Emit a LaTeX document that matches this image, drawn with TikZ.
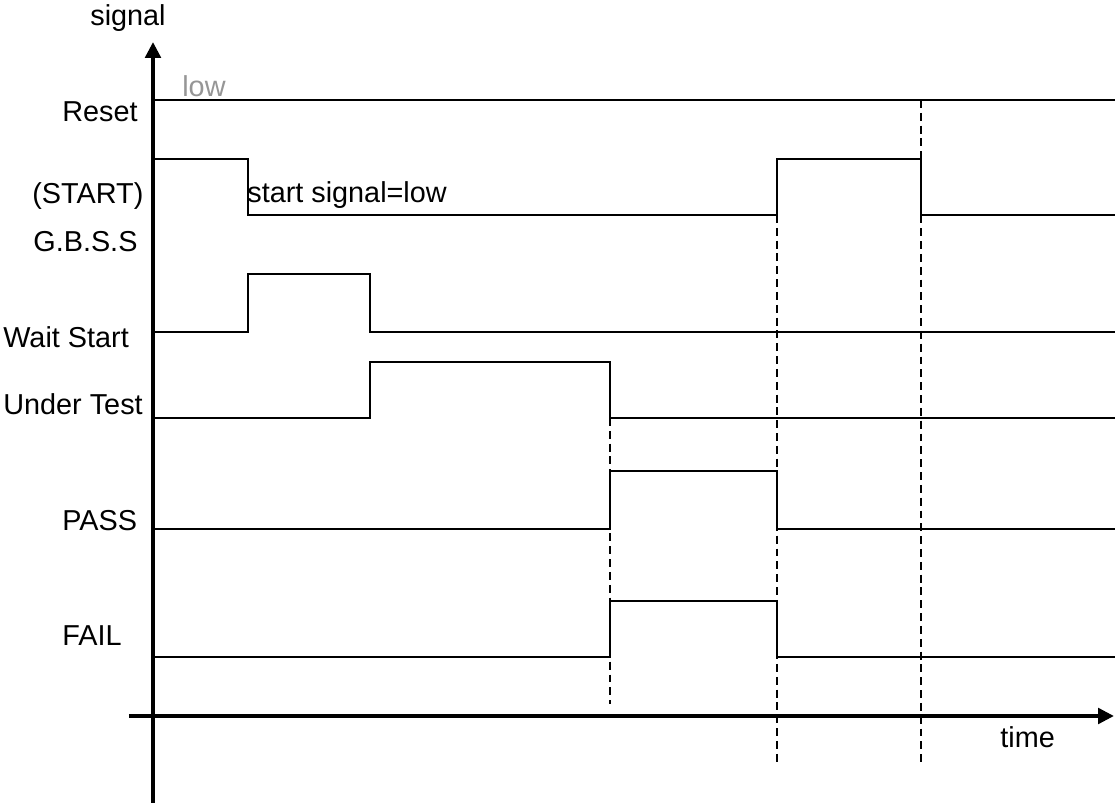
\documentclass[tikz,border=0pt]{standalone}
\usepackage{fontspec}
\setmainfont{Liberation Sans}
\usetikzlibrary{arrows.meta}
\definecolor{ink}{RGB}{0,0,0}
\definecolor{dim}{RGB}{150,150,150}
\tikzset{
  >={Triangle[length=3.2mm,width=3.1mm]},
  axis/.style={->,line width=2.2pt,draw=ink},
  wave/.style={line width=1.1pt,draw=ink},
  guide/.style={line width=1.1pt,draw=ink,dash pattern=on 4.5pt off 2.8pt},
  lbl/.style={font=\fontsize{16.4}{19}\selectfont,inner sep=0pt,anchor=base west},
}

\begin{document}
\begin{tikzpicture}
    \useasboundingbox (-3.06,-1.78) rectangle (19.24,14.32);
    % switching instants and right end of the traces
    \def\tend{19.24}
    \coordinate (t1) at (1.90,0);
    \coordinate (t2) at (4.34,0);
    \coordinate (t3) at (9.14,0);
    \coordinate (t4) at (12.48,0);
    \coordinate (t5) at (15.36,0);

    % guide lines at the transitions
    \draw[guide] (9.14,5.96) -- (9.14,0.24);
    \draw[guide] (12.48,10.02) -- (12.48,-0.92);
    \draw[guide] (15.36,12.32) -- (15.36,-0.92);

    % axes
    \coordinate (o) at (0,0);
    \coordinate (xs) at (-0.48,0);
    \coordinate (xe) at (19.22,0);
    \coordinate (ys) at (0,-1.74);
    \coordinate (ye) at (0,13.48);
    \draw[axis] (xs) -- (xe);
    \draw[axis] (ys) -- (ye);
    \node[lbl] (sig) at (-1.26,13.80) {signal};
    \node[lbl] (time) at (16.94,-0.64) {time};

    % reset stays low
    \draw[wave] (0,12.32) -- (\tend,12.32);
    \node[lbl,text=dim] (lowtag) at (0.58,12.38) {low};

    % start pulse: high at first, again between t4 and t5
    \draw[wave] (0,11.14) -| (t1 |- 0,10.02) -- (12.48,10.02) |- (15.36,11.14) |- (\tend,10.02);
    \node[lbl] (startnote) at (1.88,10.26) {start signal=low};

    % one pulse per status line
    \foreach \lo/\hi/\ta/\tb in {7.68/8.84/1.90/4.34,
                                 5.96/7.08/4.34/9.14,
                                 3.74/4.90/9.14/12.48,
                                 1.18/2.30/9.14/12.48}{
      \draw[wave] (0,\lo) -- (\ta,\lo) -- (\ta,\hi) -- (\tb,\hi) -- (\tb,\lo) -- (\tend,\lo);
    }

    % signal names
    \node[lbl] (lreset) at (-1.82,11.88) {Reset};
    \node[lbl] (lstart) at (-2.42,10.24) {(START)};
    \node[lbl] (lgbss) at (-2.40,9.28) {G.B.S.S};
    \node[lbl] (lwait) at (-3.00,7.36) {Wait Start};
    \node[lbl] (ltest) at (-3.00,6.02) {Under Test};
    \node[lbl] (lpass) at (-1.82,3.70) {PASS};
    \node[lbl] (lfail) at (-1.82,1.40) {FAIL};
\end{tikzpicture}
\end{document}
